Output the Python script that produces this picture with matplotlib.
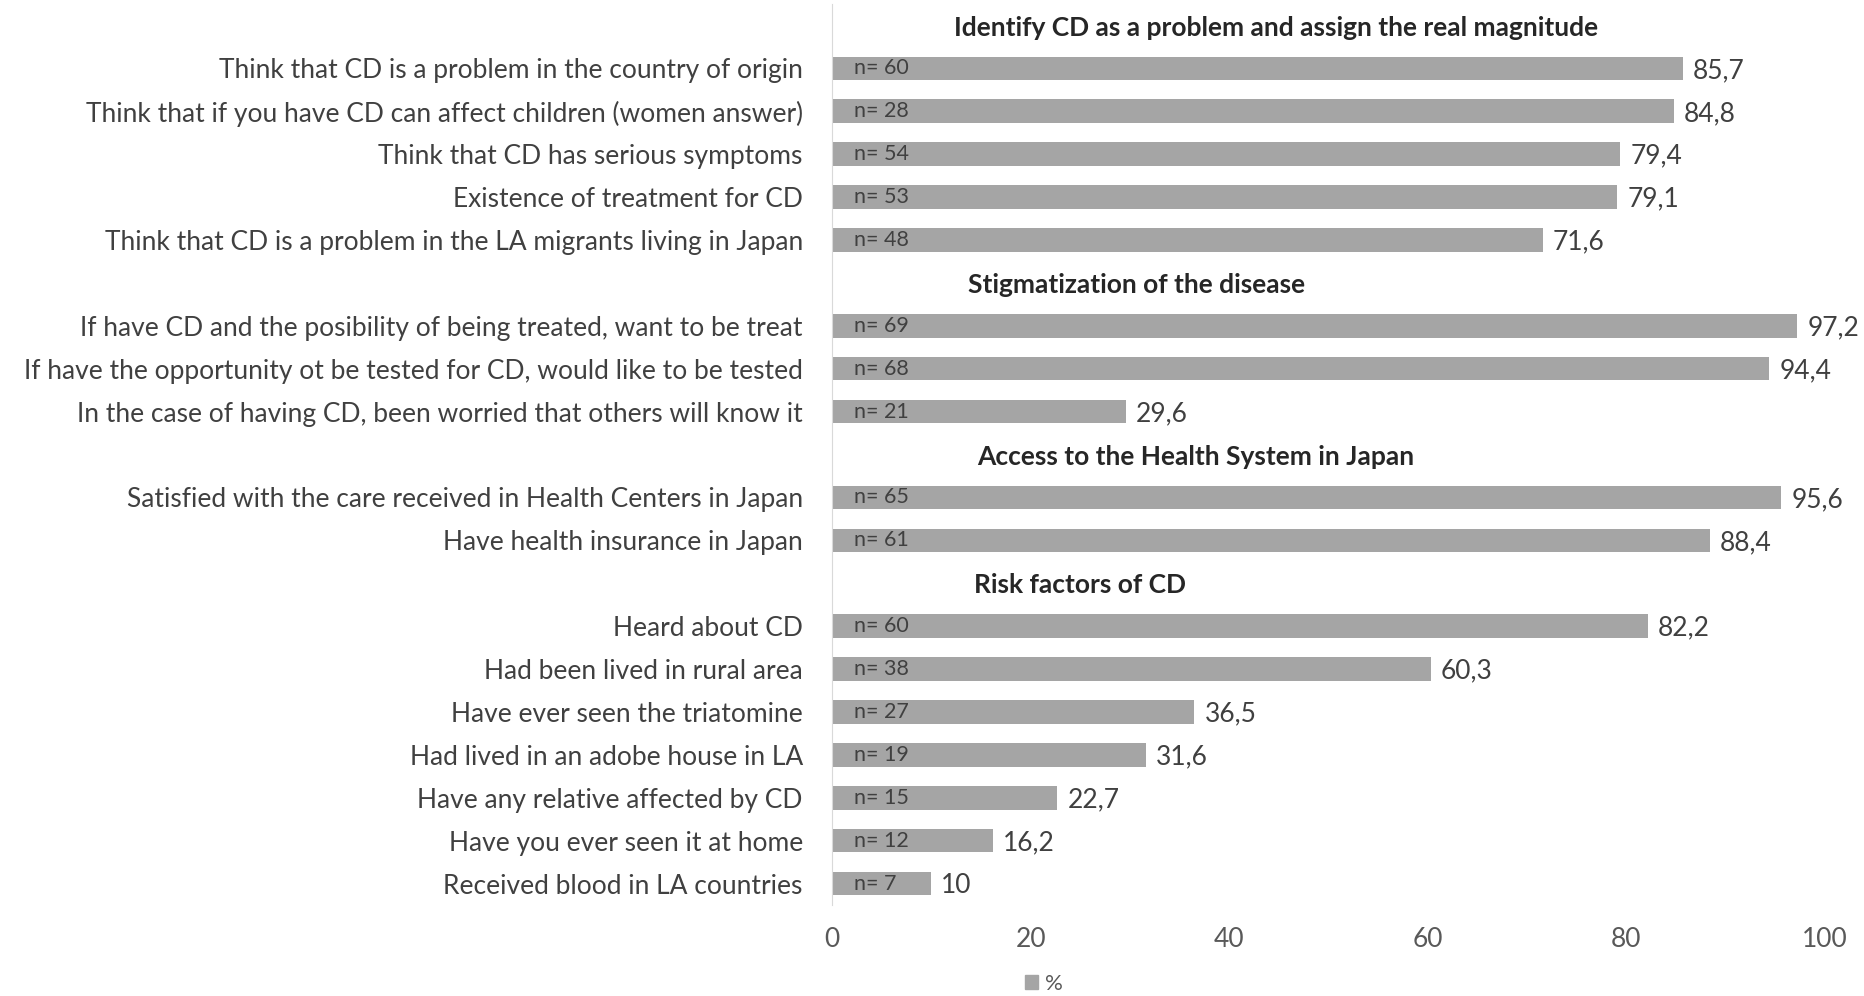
import matplotlib.pyplot as plt
from matplotlib.patches import Patch

plt.rcParams['font.family'] = ['Lato', 'DejaVu Sans']

# group titles
group_titles = ['Identify CD as a problem and assign the real magnitude',
                'Stigmatization of the disease',
                'Access to the Health System in Japan',
                'Risk factors of CD']

# bar labels per group
labels_identify = ['Think that CD is a problem in the country of origin',
                   'Think that if you have CD can affect children (women answer)',
                   'Think that CD has serious symptoms',
                   'Existence of treatment for CD',
                   'Think that CD is a problem in the LA migrants living in Japan']
labels_stigma = ['If have CD and the posibility of being treated, want to be treat',
                 'If have the opportunity ot be tested for CD, would like to be tested',
                 'In the case of having CD, been worried that others will know it']
labels_access = ['Satisfied with the care received in Health Centers in Japan',
                 'Have health insurance in Japan']
labels_risk = ['Heard about CD',
               'Had been lived in rural area',
               'Have ever seen the triatomine',
               'Had lived in an adobe house in LA',
               'Have any relative affected by CD',
               'Have you ever seen it at home',
               'Received blood in LA countries']

# percentages
pct_identify = [85.7, 84.8, 79.4, 79.1, 71.6]
pct_stigma = [97.2, 94.4, 29.6]
pct_access = [95.6, 88.4]
pct_risk = [82.2, 60.3, 36.5, 31.6, 22.7, 16.2, 10]

# n counts
n_identify = [60, 28, 54, 53, 48]
n_stigma = [69, 68, 21]
n_access = [65, 61]
n_risk = [60, 38, 27, 19, 15, 12, 7]

groups = [(labels_identify, pct_identify, n_identify),
          (labels_stigma, pct_stigma, n_stigma),
          (labels_access, pct_access, n_access),
          (labels_risk, pct_risk, n_risk)]

# x centre of each header text (data units)
title_x = [44.7, 30.7, 36.6, 25.0]

bar_color = '#A5A5A5'
text_color = '#404040'

fig = plt.figure(figsize=(18.64, 9.96), dpi=100)
ax = fig.add_axes([832/1864, 1 - 905/996, (1825-832)/1864, (905-4)/996])

pos = 0
ytick_pos = []
ytick_lab = []
for gi, (labs, vals, ns) in enumerate(groups):
    ax.text(title_x[gi], pos + 0.05, group_titles[gi], ha='center', va='center',
            fontsize=19, fontweight='bold', color='#262626')
    pos += 1
    for lab, v, n in zip(labs, vals, ns):
        ax.barh(pos, v, height=0.55, color=bar_color)
        ax.text(2.2, pos, 'n= %d' % n, va='center', ha='left',
                fontsize=15.5, color=text_color)
        vs = ('%g' % v).replace('.', ',')
        ax.text(v + 1.0, pos + 0.05, vs, va='center', ha='left',
                fontsize=19, color='#404040')
        ytick_pos.append(pos)
        ytick_lab.append(lab)
        pos += 1

ax.set_ylim(pos - 0.5, -0.5)
ax.set_xlim(0, 100)
ax.set_yticks(ytick_pos)
ax.set_yticklabels(ytick_lab, fontsize=19, color=text_color)
ax.set_xticks([0, 20, 40, 60, 80, 100])
ax.tick_params(axis='y', length=0, pad=21)
ax.tick_params(axis='x', length=0, pad=16, labelsize=19, labelcolor='#595959')
for s in ['top', 'right', 'bottom']:
    ax.spines[s].set_visible(False)
ax.spines['left'].set_color('#D9D9D9')

fig.legend(handles=[Patch(color=bar_color, label='%')], loc='center',
           bbox_to_anchor=(0.56, 0.012), frameon=False, fontsize=16,
           handlelength=0.6, handleheight=0.6, handletextpad=0.3,
           labelcolor='#595959', borderpad=0)

plt.savefig('out.png', dpi=100)
